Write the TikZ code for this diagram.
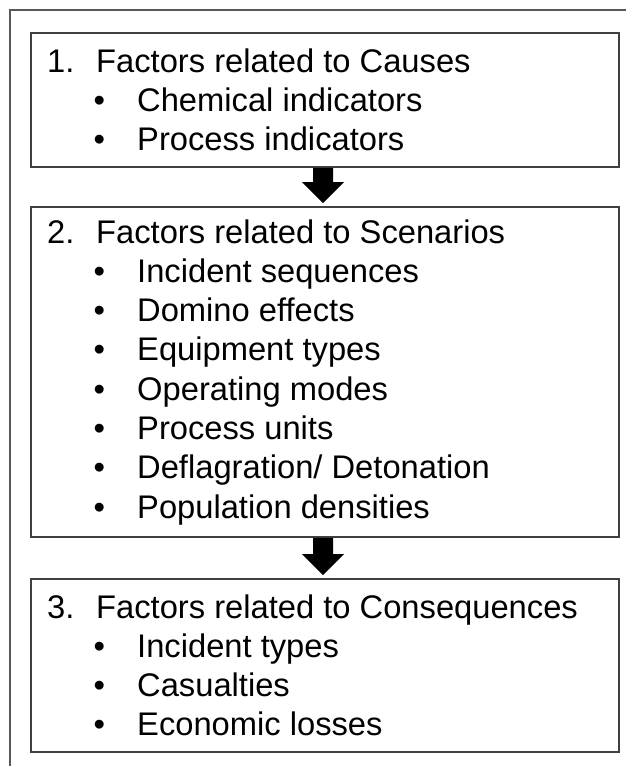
\documentclass[tikz,border=0pt]{standalone}
\usepackage{fontspec}
\setmainfont{Liberation Sans}
\usetikzlibrary{calc}
\begin{document}
\begin{tikzpicture}[x=1pt,y=-1pt]
\tikzset{
  frame/.style={draw=black!65, line width=1.8pt},
  box/.style={draw=black!75, line width=1.8pt, rectangle, inner sep=0pt, minimum width=588pt},
  txt/.style={anchor=base west, inner sep=0pt, font=\fontsize{32.7}{39}\selectfont, text=black},
  blockarrow/.style={fill=black}
}
\useasboundingbox (0,0) rectangle (626,766);
\clip (0,0) rectangle (626,766);

% outer frame, running past the page on the right and at the bottom
\draw[frame] (10,790) -- (10,10) -- (650,10);

% the three boxes
\node[box, minimum height=134pt] (b1) at (325,100) {};
\node[box, minimum height=330pt] (b2) at (325,372) {};
\node[box, minimum height=173pt] (b3) at (325,665.5) {};

% box 1
\node[txt] (n1) at (47,72) {1.};
\node[txt] (t1) at (96,72) {Factors related to Causes};
\foreach \k/\s in {1/{Chemical indicators}, 2/{Process indicators}}{
  \node[txt] (d1-\k) at (93.3,{72+39.3*\k}) {•};
  \node[txt] (i1-\k) at (137,{72+39.3*\k}) {\s};
}

% box 2
\node[txt] (n2) at (47,243) {2.};
\node[txt] (t2) at (96,243) {Factors related to Scenarios};
\foreach \k/\s in {1/{Incident sequences}, 2/{Domino effects}, 3/{Equipment types},
                   4/{Operating modes}, 5/{Process units}, 6/{Deflagration/ Detonation},
                   7/{Population densities}}{
  \node[txt] (d2-\k) at (93.3,{243+39.3*\k}) {•};
  \node[txt] (i2-\k) at (137,{243+39.3*\k}) {\s};
}

% box 3
\node[txt] (n3) at (47,618) {3.};
\node[txt] (t3) at (96,618) {Factors related to Consequences};
\foreach \k/\s in {1/{Incident types}, 2/{Casualties}, 3/{Economic losses}}{
  \node[txt] (d3-\k) at (93.3,{618+39.3*\k}) {•};
  \node[txt] (i3-\k) at (137,{618+39.3*\k}) {\s};
}

% block arrows between the boxes
\coordinate (a1s) at ($(b1.south)+(-2,0)$);
\coordinate (a1t) at ($(b2.north)+(-2,-3)$);
\fill[blockarrow] ($(a1s)+(-10,0)$) -- ($(a1s)+(10,0)$) -- ($(a1t)+(10,-21)$)
  -- ($(a1t)+(21,-21)$) -- (a1t) -- ($(a1t)+(-21,-21)$) -- ($(a1t)+(-10,-21)$) -- cycle;

\coordinate (a2s) at ($(b2.south)+(-2,0)$);
\coordinate (a2t) at ($(b3.north)+(-2,-3)$);
\fill[blockarrow] ($(a2s)+(-10,0)$) -- ($(a2s)+(10,0)$) -- ($(a2t)+(10,-21)$)
  -- ($(a2t)+(21,-21)$) -- (a2t) -- ($(a2t)+(-21,-21)$) -- ($(a2t)+(-10,-21)$) -- cycle;
\end{tikzpicture}
\end{document}
